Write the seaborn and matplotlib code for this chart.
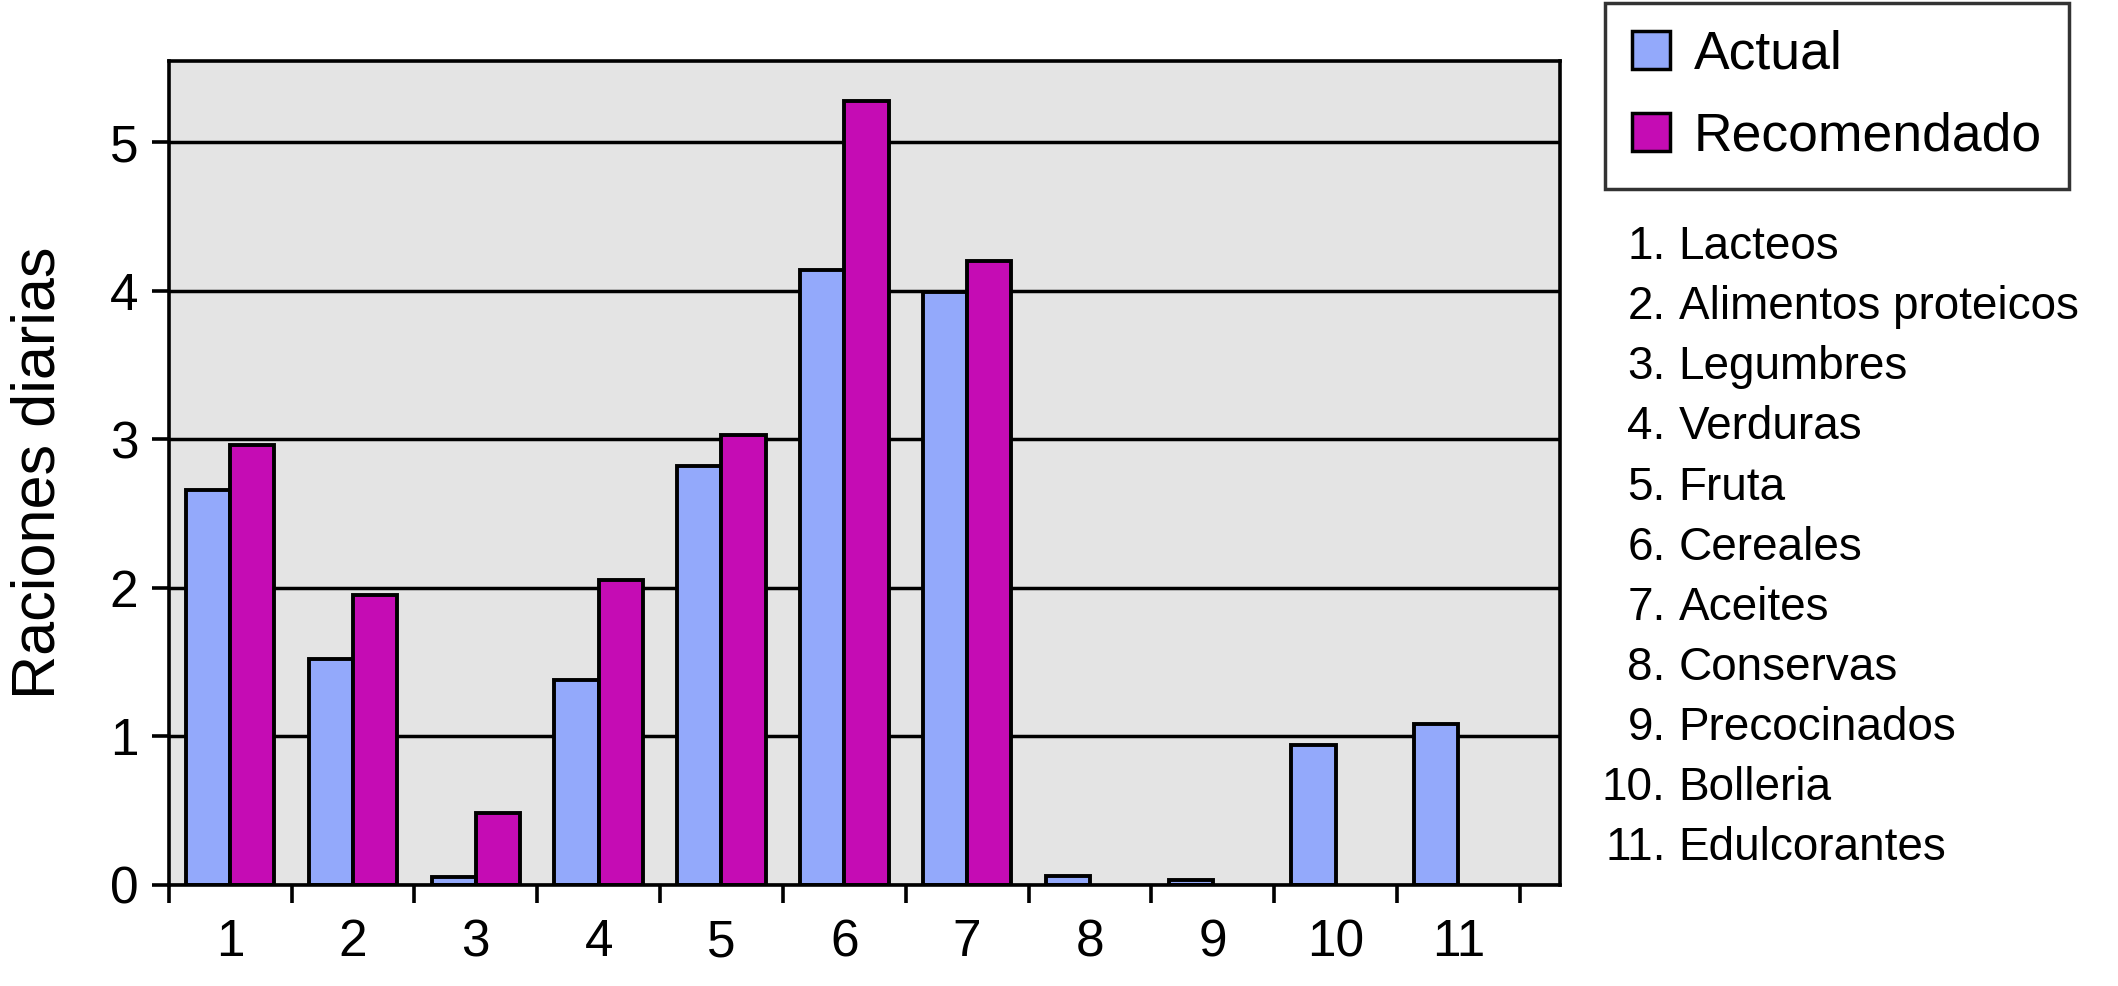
import numpy as np
import pandas as pd

import matplotlib
matplotlib.use("Agg")
import matplotlib.pyplot as plt
import seaborn as sns

# =====================================================
# DATOS
# =====================================================

categorias = ["1", "2", "3", "4", "5", "6", "7", "8", "9", "10", "11"]

actual = [2.66, 1.52, 0.05, 1.38, 2.82, 4.14, 3.99, 0.06, 0.03, 0.94, 1.08]

recomendado = [2.96, 1.95, 0.48, 2.05, 3.03, 5.28, 4.20,
               np.nan, np.nan, np.nan, np.nan]

nombres = [
    "Lacteos",
    "Alimentos proteicos",
    "Legumbres",
    "Verduras",
    "Fruta",
    "Cereales",
    "Aceites",
    "Conservas",
    "Precocinados",
    "Bolleria",
    "Edulcorantes"
]

series = ["Actual", "Recomendado"]
colores = {"Actual": "#93a9fb", "Recomendado": "#c50cb4"}

df = pd.DataFrame({
    "Grupo": categorias * 2,
    "Serie": ["Actual"] * len(categorias) + ["Recomendado"] * len(categorias),
    "Raciones": actual + recomendado
})

# =====================================================
# ESTILO
# =====================================================

sns.set_style("white")
plt.rcParams["font.family"] = ["Liberation Sans", "DejaVu Sans"]
plt.rcParams["text.color"] = "black"
plt.rcParams["axes.labelcolor"] = "black"
plt.rcParams["xtick.color"] = "black"
plt.rcParams["ytick.color"] = "black"

fig = plt.figure(figsize=(21.18, 9.86), dpi=100)
ax = fig.add_axes([0.0797, 0.1027, 0.657, 0.8357])

# =====================================================
# BARRAS
# =====================================================

sns.barplot(
    data=df,
    x="Grupo",
    y="Raciones",
    hue="Serie",
    hue_order=series,
    order=categorias,
    palette=colores,
    width=0.72,
    edgecolor="black",
    linewidth=2.8,
    errorbar=None,
    saturation=1,
    ax=ax
)

ax.set_facecolor("#e4e4e4")
ax.set_axisbelow(True)
ax.yaxis.grid(True, color="black", linewidth=2.5)
ax.xaxis.grid(False)

ax.set_ylim(0, 5.55)
ax.set_xlim(-0.5, 10.83)
ax.set_yticks(range(0, 6))

for s in ax.spines.values():
    s.set_visible(True)
    s.set_color("black")
    s.set_linewidth(2.6)

ax.set_xticks(np.arange(-0.5, 11, 1), minor=True)
ax.tick_params(axis="x", which="major", length=0, pad=24, labelsize=37)
ax.tick_params(axis="x", which="minor", length=13, width=2.6,
               direction="out", color="black", bottom=True)
ax.tick_params(axis="y", which="major", length=12, width=2.6,
               direction="out", color="black", left=True,
               pad=10, labelsize=37)

ax.set_xlabel("")
ax.set_ylabel("Raciones diarias", fontsize=44, labelpad=30)

# =====================================================
# LEYENDA
# =====================================================

handles, labels = ax.get_legend_handles_labels()
ax.get_legend().remove()

leg = fig.legend(
    handles, labels,
    loc="upper left",
    bbox_to_anchor=(0.7577, 0.997),
    borderaxespad=0,
    fontsize=38.5,
    frameon=True,
    fancybox=False,
    edgecolor="black",
    handlelength=0.72,
    handleheight=0.72,
    handletextpad=0.45,
    labelspacing=0.6,
    borderpad=0.5
)
leg.get_frame().set_linewidth(2.5)
for h in leg.legend_handles:
    h.set_edgecolor("black")
    h.set_linewidth(2.5)

# =====================================================
# LISTA DE GRUPOS
# =====================================================

y0 = 1 - 183 / 730
paso = 44.5 / 730

for i, nombre in enumerate(nombres):
    y = y0 - i * paso
    fig.text(0.7865, y, f"{i + 1}.", ha="right", va="center", fontsize=33)
    fig.text(0.7925, y, nombre, ha="left", va="center", fontsize=33)

fig.savefig("out.png", dpi=100)
